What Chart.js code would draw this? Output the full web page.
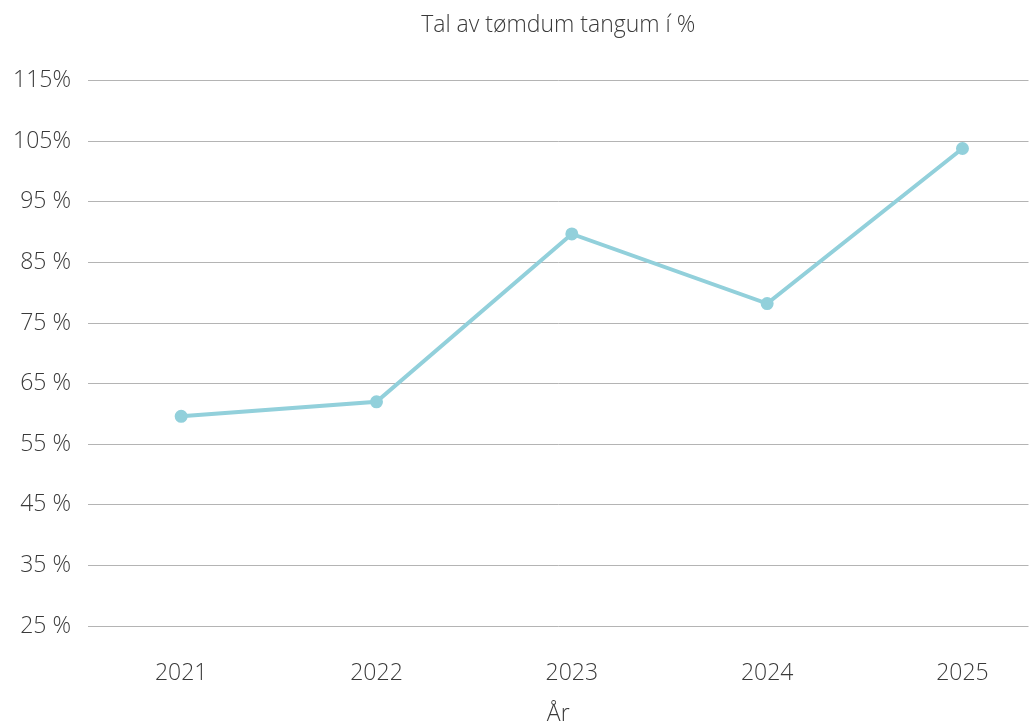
<!DOCTYPE html>
<html>
<head>
<meta charset="utf-8">
<script src="https://cdn.jsdelivr.net/npm/chart.js@4"></script>
<style>
  html, body { margin: 0; padding: 0; background: #fff; }
  #wrap { width: 1030px; height: 728px; overflow: hidden; }
</style>
</head>
<body>
<div id="wrap"><canvas id="chart" width="1037" height="728"></canvas></div>
<script>
const years = [2021, 2022, 2023, 2024, 2025];
const values = [59.6, 62.0, 89.7, 78.2, 103.8];
const yTickValues = [25, 35, 45, 55, 65, 75, 85, 95, 105, 115];
const yTickLabels = ['25 %', '35 %', '45 %', '55 %', '65 %', '75 %', '85 %', '95 %', '105%', '115%'];

const textColor = '#3a3a3a';
const fontFamily = "'Open Sans', sans-serif";

let ctx = document.getElementById('chart').getContext('2d');
new Chart(ctx, {
  type: 'line',
  data: {
    datasets: [{
      label: 'Tal av tømdum tangum í %',
      data: years.map((y, i) => ({ x: y, y: values[i] })),
      borderColor: '#92d0db',
      backgroundColor: '#92d0db',
      borderWidth: 4,
      pointRadius: 4.5,
      pointHoverRadius: 4.5,
      tension: 0
    }]
  },
  options: {
    responsive: false,
    animation: false,
    layout: { padding: { top: 12, right: 2, bottom: 0, left: 0 } },
    plugins: {
      legend: { display: false },
      tooltip: { enabled: false },
      title: {
        display: true,
        fullSize: false,
        text: 'Tal av tømdum tangum í %',
        color: textColor,
        font: { family: fontFamily, size: 23, weight: 300 },
        padding: { top: 0, bottom: 41 }
      }
    },
    scales: {
      x: {
        type: 'linear',
        min: 2020.523,
        max: 2025.338,
        afterBuildTicks: function (axis) {
          axis.ticks = years.map(v => ({ value: v }));
        },
        afterFit: function (axis) {
          axis.height = 102;
          axis.paddingLeft = 0;
          axis.paddingRight = 0;
        },
        ticks: {
          color: textColor,
          font: { family: fontFamily, size: 23, weight: 300 },
          padding: 26,
          callback: v => String(v)
        },
        grid: { display: false },
        border: { display: false },
        title: {
          display: true,
          text: 'År',
          color: textColor,
          font: { family: fontFamily, size: 23, weight: 300 },
          padding: { top: 6, bottom: 0 }
        }
      },
      y: {
        min: 25,
        max: 115,
        afterBuildTicks: function (axis) {
          axis.ticks = yTickValues.map(v => ({ value: v }));
        },
        afterFit: function (axis) {
          axis.width = 88;
        },
        ticks: {
          color: textColor,
          font: { family: fontFamily, size: 23, weight: 300 },
          padding: 17,
          callback: function (v) {
            let i = yTickValues.indexOf(v);
            return i >= 0 ? yTickLabels[i] : '';
          }
        },
        grid: { color: '#b4b4b4', lineWidth: 1, drawTicks: false },
        border: { display: false }
      }
    }
  }
});
</script>
</body>
</html>
